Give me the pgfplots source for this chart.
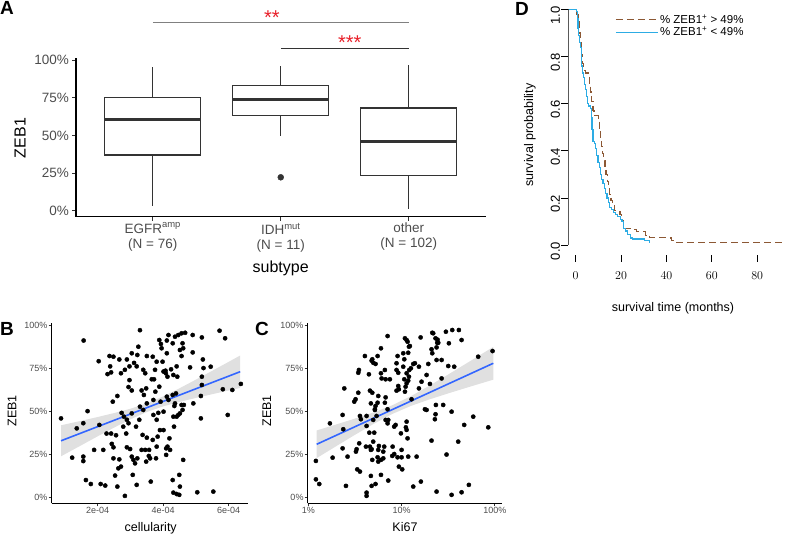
\documentclass[border=0pt]{standalone}
\usepackage{fontspec}
\setmainfont{Liberation Sans}
\usepackage{pgfplots}
\usepackage{pgfplotstable}
\pgfplotsset{compat=1.18}
\usepgfplotslibrary{statistics}

\definecolor{ggtext}{HTML}{4D4D4D}
\definecolor{boxgray}{HTML}{333333}
\definecolor{ggblue}{HTML}{3366FF}
\definecolor{sigred}{HTML}{E8202A}
\definecolor{kmbrown}{RGB}{140,88,52}
\definecolor{kmblue}{RGB}{45,172,228}
\newcommand{\fs}[1]{\fontsize{#1}{#1}\selectfont}

% panel B: cellularity (units of 1e-4) vs ZEB1
\pgfplotstableread{
x y
0.88 0.458
1.36 0.40
1.56 0.43
1.69 0.50
1.57 0.91
1.22 0.23
1.56 0.236
1.56 0.21
1.64 0.10
1.79 0.077
1.89 0.275
2.03 0.79
2.05 0.42
2.09 0.077
2.23 0.068
2.17 0.275
2.30 0.715
2.41 0.725
2.38 0.76
2.36 0.82
2.46 0.555
2.60 0.588
2.48 0.816
2.66 0.80
2.27 0.37
2.41 0.37
2.56 0.36
2.43 0.31
2.48 0.29
2.53 0.126
2.60 0.062
2.83 0.008
2.48 0.226
2.66 0.22
2.71 0.178
2.63 0.168
2.71 0.72
2.83 0.74
2.89 0.80
2.73 0.49
2.80 0.468
2.89 0.45
2.78 0.41
2.94 0.43
2.87 0.37
2.97 0.68
2.94 0.64
3.04 0.62
2.97 0.76
3.04 0.836
3.11 0.78
3.19 0.76
3.21 0.826
3.24 0.874
3.29 0.97
2.89 0.29
2.99 0.28
3.04 0.236
3.09 0.217
3.14 0.197
3.21 0.226
3.07 0.13
3.19 0.072
3.04 0.487
3.17 0.41
3.27 0.45
3.29 0.526
3.34 0.62
3.39 0.74
3.45 0.72
3.50 0.82
3.48 0.632
3.41 0.594
3.50 0.545
3.39 0.507
3.37 0.362
3.50 0.346
3.45 0.275
3.34 0.275
3.57 0.275
3.60 0.226
3.56 0.24
3.48 0.207
3.62 0.091
3.68 0.816
3.65 0.685
3.72 0.685
3.76 0.613
3.75 0.74
3.80 0.787
3.70 0.565
3.70 0.478
3.80 0.45
3.68 0.333
3.83 0.352
3.80 0.294
3.78 0.226
3.88 0.913
3.93 0.89
3.95 0.865
3.98 0.787
3.88 0.642
3.92 0.555
3.85 0.49
4.01 0.497
3.90 0.39
4.01 0.39
4.01 0.73
4.11 0.836
4.07 0.735
4.08 0.72
4.11 0.91
4.16 0.942
4.13 0.70
4.11 0.584
4.16 0.565
4.09 0.284
4.13 0.294
4.21 0.275
4.09 0.246
4.19 0.342
4.29 0.894
4.36 0.932
4.24 0.743
4.31 0.71
4.29 0.594
4.34 0.53
4.31 0.468
4.33 0.41
4.29 0.10
4.31 0.027
4.41 0.019
4.49 0.014
4.46 0.942
4.51 0.855
4.56 0.952
4.59 0.894
4.56 0.82
4.41 0.76
4.39 0.603
4.36 0.545
4.51 0.487
4.46 0.478
4.56 0.536
4.41 0.468
4.43 0.70
4.49 0.13
4.51 0.062
4.61 0.217
4.59 0.507
4.63 0.536
4.61 0.865
4.67 0.955
4.92 0.545
4.82 0.754
4.90 0.841
4.90 0.942
5.18 0.652
5.15 0.588
5.18 0.70
5.18 0.928
5.21 0.80
5.23 0.75
5.15 0.458
5.04 0.029
5.53 0.033
5.45 0.758
5.72 0.967
5.89 0.923
5.82 0.627
5.97 0.478
6.37 0.658
6.11 0.623
}\cellB

% panel C: log10(Ki67) vs ZEB1
\pgfplotstableread{
x y
-1.918 0.211
-1.918 0.104
-1.882 0.077
-1.768 0.429
-1.739 0.230
-1.632 0.478
-1.625 0.395
-1.632 0.284
-1.614 0.632
-1.579 0.236
-1.596 0.066
-1.507 0.555
-1.493 0.569
-1.482 0.279
-1.489 0.265
-1.464 0.607
-1.457 0.739
-1.464 0.723
-1.446 0.472
-1.454 0.313
-1.475 0.162
-1.446 0.149
-1.436 0.453
-1.393 0.820
-1.375 0.472
-1.375 0.414
-1.382 0.294
-1.375 0.027
-1.375 0.008
-1.346 0.375
-1.350 0.714
-1.339 0.619
-1.329 0.545
-1.339 0.294
-1.329 0.275
-1.314 0.801
-1.321 0.793
-1.304 0.781
-1.304 0.449
-1.314 0.607
-1.314 0.217
-1.304 0.323
-1.321 0.279
-1.293 0.375
-1.286 0.507
-1.279 0.530
-1.268 0.472
-1.257 0.549
-1.286 0.511
-1.321 0.066
-1.329 0.124
-1.279 0.774
-1.257 0.820
-1.250 0.588
-1.243 0.298
-1.250 0.275
-1.257 0.232
-1.221 0.217
-1.250 0.207
-1.221 0.130
-1.279 0.077
-1.221 0.865
-1.221 0.720
-1.214 0.690
-1.196 0.265
-1.186 0.294
-1.196 0.226
-1.179 0.549
-1.171 0.580
-1.171 0.449
-1.150 0.936
-1.179 0.739
-1.171 0.685
-1.150 0.511
-1.150 0.429
-1.143 0.449
-1.143 0.097
-1.125 0.685
-1.100 0.240
-1.079 0.251
-1.096 0.294
-1.079 0.410
-1.054 0.778
-1.043 0.820
-1.054 0.739
-1.036 0.646
-1.029 0.627
-1.054 0.619
-1.036 0.723
-1.064 0.420
-1.007 0.371
-1.043 0.232
-1.029 0.178
-1.000 0.232
-0.993 0.162
-1.000 0.275
-0.982 0.836
-0.982 0.758
-0.971 0.685
-0.971 0.801
-0.964 0.613
-0.957 0.642
-0.946 0.720
-0.946 0.662
-0.946 0.439
-0.954 0.406
-0.946 0.391
-0.936 0.342
-0.929 0.236
-0.921 0.874
-0.964 0.923
-0.946 0.913
-0.929 0.839
-0.918 0.739
-0.921 0.700
-0.929 0.677
-0.936 0.903
-0.911 0.878
-0.900 0.749
-0.893 0.569
-0.875 0.774
-0.839 0.236
-0.857 0.778
-0.814 0.758
-0.814 0.632
-0.875 0.062
-0.793 0.091
-0.796 0.928
-0.786 0.671
-0.750 0.511
-0.732 0.507
-0.732 0.710
-0.714 0.774
-0.696 0.658
-0.679 0.859
-0.671 0.836
-0.661 0.952
-0.671 0.955
-0.679 0.329
-0.643 0.453
-0.636 0.482
-0.625 0.870
-0.618 0.897
-0.636 0.923
-0.607 0.897
-0.625 0.797
-0.632 0.536
-0.614 0.915
-0.625 0.033
-0.571 0.797
-0.554 0.536
-0.571 0.690
-0.525 0.961
-0.493 0.894
-0.500 0.762
-0.518 0.248
-0.464 0.014
-0.457 0.971
-0.436 0.758
-0.464 0.497
-0.386 0.971
-0.357 0.913
-0.393 0.323
-0.357 0.029
-0.279 0.072
-0.329 0.420
-0.232 0.468
-0.179 0.816
-0.071 0.406
-0.025 0.849
}\kiC

\pgfplotsset{
  gg/.style={
    scale only axis,
    axis x line*=bottom, axis y line*=left,
    axis line style={line width=1.1pt, black},
    tick align=outside,
    every tick/.style={boxgray, line width=0.9pt},
    tick label style={text=ggtext},
  },
}

\begin{document}
\begin{tikzpicture}[x=1pt,y=1pt]
\path[use as bounding box] (0,0) rectangle (786,535);

%%%%%%%%%%%% A
\begin{axis}[gg,
  at={(76pt,318.3pt)}, anchor=south west,
  width=409.5pt, height=158.4pt,
  xmin=0.4, xmax=3.6, ymin=-0.04, ymax=1.013,
  major tick length=4pt,
  xtick={1,2,3},
  xticklabels={{EGFR\textsuperscript{amp}\\(N = 76)},{IDH\textsuperscript{mut}\\(N = 11)},{other\\(N = 102)}},
  xticklabel style={align=center, font=\fontsize{13.5}{15}\selectfont, inner sep=1pt, yshift=-1pt},
  ytick={0,0.25,0.5,0.75,1},
  yticklabels={0\%,25\%,50\%,75\%,100\%},
  yticklabel style={font=\fs{13.5}, inner sep=1pt, xshift=-2pt},
  clip=false,
  boxplot/draw direction=y,
  boxplot/box extend=0.75,
  boxplot/whisker extend=0,
  boxplot/every box/.style={draw=boxgray, line width=1.3pt},
  boxplot/every whisker/.style={draw=boxgray, line width=1.2pt},
  boxplot/every median/.style={draw=boxgray, line width=3pt},
]
\addplot[boxplot prepared={draw position=1, lower whisker=0.031, lower quartile=0.370,
  median=0.608, upper quartile=0.751, upper whisker=0.957}, draw=boxgray] coordinates {};
\addplot[boxplot prepared={draw position=2, lower whisker=0.499, lower quartile=0.632,
  median=0.736, upper quartile=0.831, upper whisker=0.962}, draw=boxgray,
  mark=*, mark size=3pt, mark options={fill=boxgray, draw=boxgray}]
  table[row sep=\\, y index=0] {0.222\\};
\addplot[boxplot prepared={draw position=3, lower whisker=0.009, lower quartile=0.235,
  median=0.459, upper quartile=0.683, upper whisker=0.967}, draw=boxgray] coordinates {};

% significance brackets
\draw[gray, line width=0.9pt] (axis cs:1,1.248) -- (axis cs:3,1.248);
\draw[boxgray, line width=0.9pt] (axis cs:2,1.08) -- (axis cs:3,1.08);
\node[text=sigred, font=\fs{20}, anchor=base, inner sep=0pt] at (axis cs:1.93,1.235) {**};
\node[text=sigred, font=\fs{20}, anchor=base, inner sep=0pt] at (axis cs:2.54,1.07) {***};
\end{axis}

%%%%%%%%%%%% B
\begin{axis}[gg,
  at={(51.7pt,31.7pt)}, anchor=south west,
  width=196.6pt, height=180pt,
  xmin=0.595, xmax=6.598, ymin=-0.035, ymax=1.01,
  major tick length=3pt,
  xtick={2,4,6}, xticklabels={2e-04,4e-04,6e-04},
  ytick={0,0.25,0.5,0.75,1},
  yticklabels={0\%,25\%,50\%,75\%,100\%},
  tick label style={font=\fs{9}, inner sep=1pt},
]
\addplot[only marks, mark=*, mark size=2.1pt, black] table {\cellB};
\addplot[draw=none, fill=gray!60, fill opacity=0.4] coordinates {
 (0.88,0.418) (1.5,0.444) (2,0.466) (2.5,0.4889) (3,0.5141) (3.5,0.545) (4,0.5857)
 (4.5,0.633) (5,0.6832) (5.5,0.7346) (6,0.7865) (6.35,0.8231)
 (6.35,0.6349) (6,0.6201) (5.5,0.5986) (5,0.5768) (4.5,0.5536) (4,0.5278)
 (3.5,0.495) (3,0.4527) (2.5,0.4045) (2,0.354) (1.5,0.302) (0.88,0.238)} -- cycle;
\addplot[ggblue, line width=1.6pt] coordinates {(0.88,0.328) (6.35,0.729)};
\end{axis}

%%%%%%%%%%%% C
\begin{axis}[gg,
  at={(307.7pt,31.7pt)}, anchor=south west,
  width=194pt, height=180pt,
  xmin=-2.006, xmax=0.073, ymin=-0.035, ymax=1.01,
  major tick length=3pt,
  xtick={-2,-1,0}, xticklabels={1\%,10\%,100\%},
  ytick={0,0.25,0.5,0.75,1},
  yticklabels={0\%,25\%,50\%,75\%,100\%},
  tick label style={font=\fs{9}, inner sep=1pt},
]
\addplot[only marks, mark=*, mark size=2.1pt, black] table {\kiC};
\addplot[draw=none, fill=gray!60, fill opacity=0.4] coordinates {
 (-1.91,0.388) (-1.7,0.4228) (-1.5,0.4567) (-1.3,0.4926) (-1.1,0.5343) (-0.9,0.5869)
 (-0.7,0.6482) (-0.5,0.7129) (-0.3,0.7789) (-0.1,0.8455) (-0.017,0.8732)
 (-0.017,0.6828) (-0.1,0.6693) (-0.3,0.6365) (-0.5,0.6031) (-0.7,0.5684) (-0.9,0.5303)
 (-1.1,0.4835) (-1.3,0.4258) (-1.5,0.3623) (-1.7,0.2968) (-1.91,0.2272)} -- cycle;
\addplot[ggblue, line width=1.6pt] coordinates {(-1.91,0.3076) (-0.017,0.778)};
\end{axis}

%%%%%%%%%%%% D
\begin{axis}[
  scale only axis,
  at={(568.3pt,280pt)}, anchor=south west,
  width=217.7pt, height=255pt,
  xmin=-3.25, xmax=92.7, ymin=-0.042, ymax=1.04,
  axis x line*=bottom, axis y line*=left,
  axis line style={draw=none},
  tick align=outside, major tick length=7pt,
  every tick/.style={black, line width=0.8pt},
  xtick={0,20,40,60,80},
  ytick={0,0.2,0.4,0.6,0.8,1},
  yticklabels={0.0,0.2,0.4,0.6,0.8,1.0},
  xticklabel style={font=\fs{13}, inner sep=1pt, yshift=-9pt},
  yticklabel style={font=\fs{13}, rotate=90, anchor=south, inner sep=1pt, xshift=-6pt},
  legend style={at={(rel axis cs:0.215,0.95)}, anchor=north west, draw=none, fill=none,
    font=\fs{11.5}, row sep=-1pt, inner sep=0pt, nodes={inner sep=1.5pt}},
  legend cell align=left,
  legend image code/.code={\draw[#1] (0pt,0pt) -- (42pt,0pt);},
]
\addplot[kmbrown, line width=1.2pt, dash pattern=on 7pt off 4pt, const plot mark left] coordinates {
 (-3.2,1.0) (0.5,0.98) (1.0,0.95) (1.5,0.90) (2.0,0.86) (2.5,0.81) (3.0,0.77) (3.4,0.74)
 (4.5,0.73) (5.6,0.72) (6.0,0.68) (6.4,0.65) (7.0,0.61) (7.6,0.57) (8.1,0.55) (9.9,0.53)
 (10.4,0.49) (10.9,0.45) (11.4,0.42) (11.9,0.39) (12.4,0.36) (12.9,0.33) (13.4,0.30)
 (13.9,0.27) (14.4,0.245) (15.0,0.215) (15.6,0.19) (16.3,0.17) (17.2,0.146) (19.5,0.13)
 (20.2,0.106) (20.9,0.071) (25.3,0.065) (26.8,0.057) (30.9,0.042) (32.7,0.032)
 (40.0,0.030) (42.2,0.018) (44.4,0.010) (92.7,0.010)};
\addlegendentry{\% ZEB1\textsuperscript{+} > 49\%}
\addplot[kmblue, line width=1.2pt, const plot mark left] coordinates {
 (-3.2,1.0) (0.4,0.99) (0.7,0.96) (1.0,0.92) (1.3,0.89) (1.7,0.86) (2.1,0.84) (2.4,0.80)
 (2.7,0.76) (3.1,0.73) (3.5,0.71) (3.9,0.68) (4.3,0.66) (4.8,0.63) (5.2,0.60) (5.6,0.59)
 (6.6,0.58) (6.9,0.54) (7.2,0.49) (7.6,0.44) (8.2,0.43) (8.8,0.41) (9.3,0.38) (9.8,0.35)
 (10.4,0.33) (10.9,0.30) (11.5,0.28) (12.0,0.26) (12.6,0.24) (13.2,0.22) (13.8,0.20)
 (14.3,0.18) (15.0,0.16) (15.9,0.15) (16.8,0.14) (17.5,0.13) (18.5,0.12) (19.6,0.11)
 (20.4,0.10) (21.2,0.07) (21.8,0.06) (23.0,0.045) (24.2,0.03) (25.0,0.026) (30.5,0.018)
 (32.7,0.007)};
\addlegendentry{\% ZEB1\textsuperscript{+} < 49\%}
% axis lines only across the tick range
\draw[black, line width=0.8pt] (axis cs:-3.25,0) -- (axis cs:-3.25,1);
\draw[black, line width=0.8pt] (axis cs:0,-0.042) -- (axis cs:80,-0.042);
\end{axis}

%%%%%%%%%%%% titles and panel letters
\node[rotate=90, font=\fs{16}] at (20,397) {ZEB1};
\node[font=\fs{16}] at (280.7,267) {subtype};
\node[rotate=90, font=\fs{12.5}] at (12,124.3) {ZEB1};
\node[font=\fs{12.5}] at (150.7,6.5) {cellularity};
\node[rotate=90, font=\fs{12.5}] at (266.7,124.3) {ZEB1};
\node[font=\fs{12.5}] at (405,8) {Ki67};
\node[rotate=90, font=\fs{12.5}] at (530,400) {survival probability};
\node[font=\fs{12.5}] at (673,227) {survival time (months)};

\node[font=\bfseries\fs{19}, anchor=north west, inner sep=0pt] at (0,533.3) {A};
\node[font=\bfseries\fs{19}, anchor=north west, inner sep=0pt] at (0,213) {B};
\node[font=\bfseries\fs{19}, anchor=north west, inner sep=0pt] at (255,213) {C};
\node[font=\bfseries\fs{19}, anchor=north west, inner sep=0pt] at (515,533) {D};
\end{tikzpicture}
\end{document}
